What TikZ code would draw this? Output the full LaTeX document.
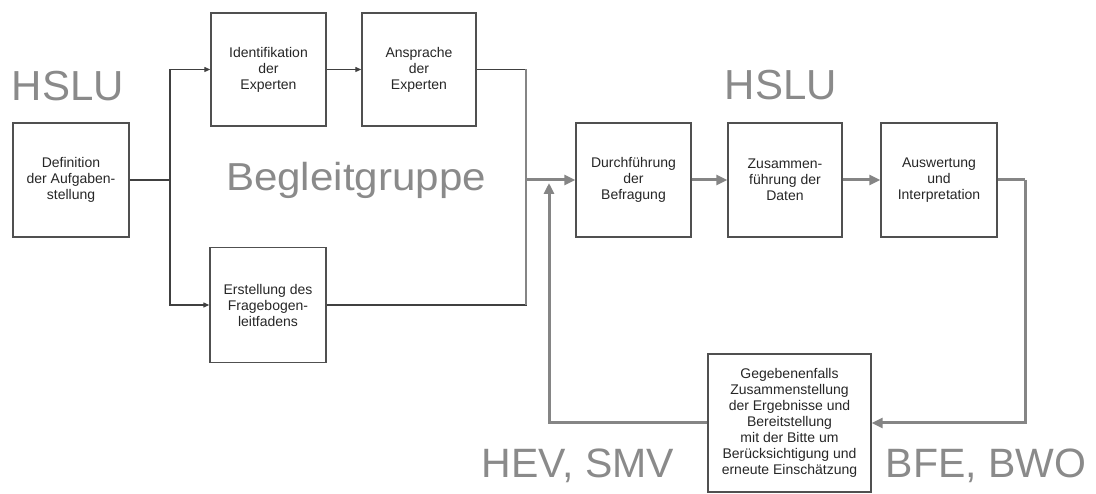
\documentclass[tikz,border=0pt]{standalone}
\usepackage{fontspec}
\setmainfont{Liberation Sans}
\usetikzlibrary{arrows.meta}
\definecolor{boxline}{HTML}{505050}
\definecolor{thinline}{HTML}{404040}
\definecolor{thickline}{HTML}{858585}
\definecolor{biglabel}{HTML}{8A8A8A}
\definecolor{boxtext}{HTML}{262626}
\tikzset{
  procbox/.style={draw=boxline, line width=1.4pt, inner sep=0pt, align=center,
    text=boxtext, font=\fontsize{14}{16}\selectfont},
  biglbl/.style={text=biglabel, font=\fontsize{42}{46}\selectfont, inner sep=0pt, anchor=base},
  thinconn/.style={draw=thinline, line width=1.2pt},
  thinarrow/.style={thinconn, -{Triangle[length=6pt,width=5pt]}},
  thickconn/.style={draw=thickline, line width=3pt},
  thickarrow/.style={thickconn, -{Triangle[length=11pt,width=10pt]}},
}
\begin{document}
\begin{tikzpicture}[x=1pt,y=-1pt]
\useasboundingbox (0,0) rectangle (1096,494);
% boxes
\node[procbox, minimum width=116pt, minimum height=114pt] (def) at (71,180) {Definition\\der Aufgaben-\\stellung};
\node[procbox, minimum width=115pt, minimum height=113pt] (ident) at (268.5,69.5) {Identifikation\\der\\Experten};
\node[procbox, minimum width=114pt, minimum height=113pt] (ansp) at (419,69.5) {Ansprache\\der\\Experten};
\node[procbox, minimum width=116pt, minimum height=115pt] (erst) at (268,305) {Erstellung des\\Fragebogen-\\leitfadens};
\node[procbox, minimum width=115pt, minimum height=114pt] (durch) at (633.5,180) {Durchführung\\der\\Befragung};
\node[procbox, minimum width=114pt, minimum height=114pt] (zus) at (785,180) {Zusammen-\\führung der\\Daten};
\node[procbox, minimum width=116pt, minimum height=114pt] (ausw) at (939,180) {Auswertung\\und\\Interpretation};
\node[procbox, minimum width=163pt, minimum height=138pt] (geg) at (789.5,423) {Gegebenenfalls\\Zusammenstellung\\der Ergebnisse und\\Bereitstellung\\mit der Bitte um\\Berücksichtigung und\\erneute Einschätzung};
% big labels
\node[biglbl] (hslul) at (68,101) {HSLU};
\node[biglbl] (hslur) at (781,100) {HSLU};
\node[biglbl, font=\fontsize{39}{44}\selectfont] (begl) at (356,191) {\scalebox{1.08}[1]{Begleitgruppe}};
\node[biglbl, font=\fontsize{41}{46}\selectfont] (hev) at (578,477) {HEV, SMV};
\node[biglbl, font=\fontsize{41}{46}\selectfont] (bfe) at (986,477) {BFE, BWO};
% coordinates
\coordinate (br) at (170,180);
\coordinate (jn) at (526,180);
\coordinate (ret) at (549,183);
\coordinate (rc) at (1025,180);
% left connectors
\draw[thinconn] (def.east) -- (br);
\draw[thinarrow] (br) |- (ident.west);
\draw[thinarrow] (br) |- (erst.west);
\draw[thinarrow] (ident.east) -- (ansp.east -| ansp.west);
\draw[thinconn] (ansp.east) -| (jn);
\draw[thinconn] (erst.east) -| (jn);
\draw[draw=thickline, line width=2pt] (ansp.east -| jn) -- (erst.east -| jn);
% right connectors
\draw[thickarrow] (jn) -- (durch.west);
\draw[thickarrow] (durch.east) -- (zus.west);
\draw[thickarrow] (zus.east) -- (ausw.west);
\draw[thickconn] (ausw.east) -- (rc);
\draw[thickarrow] (rc) |- (geg.east);
\draw[thickarrow] (geg.west) -| (ret);
\end{tikzpicture}
\end{document}
